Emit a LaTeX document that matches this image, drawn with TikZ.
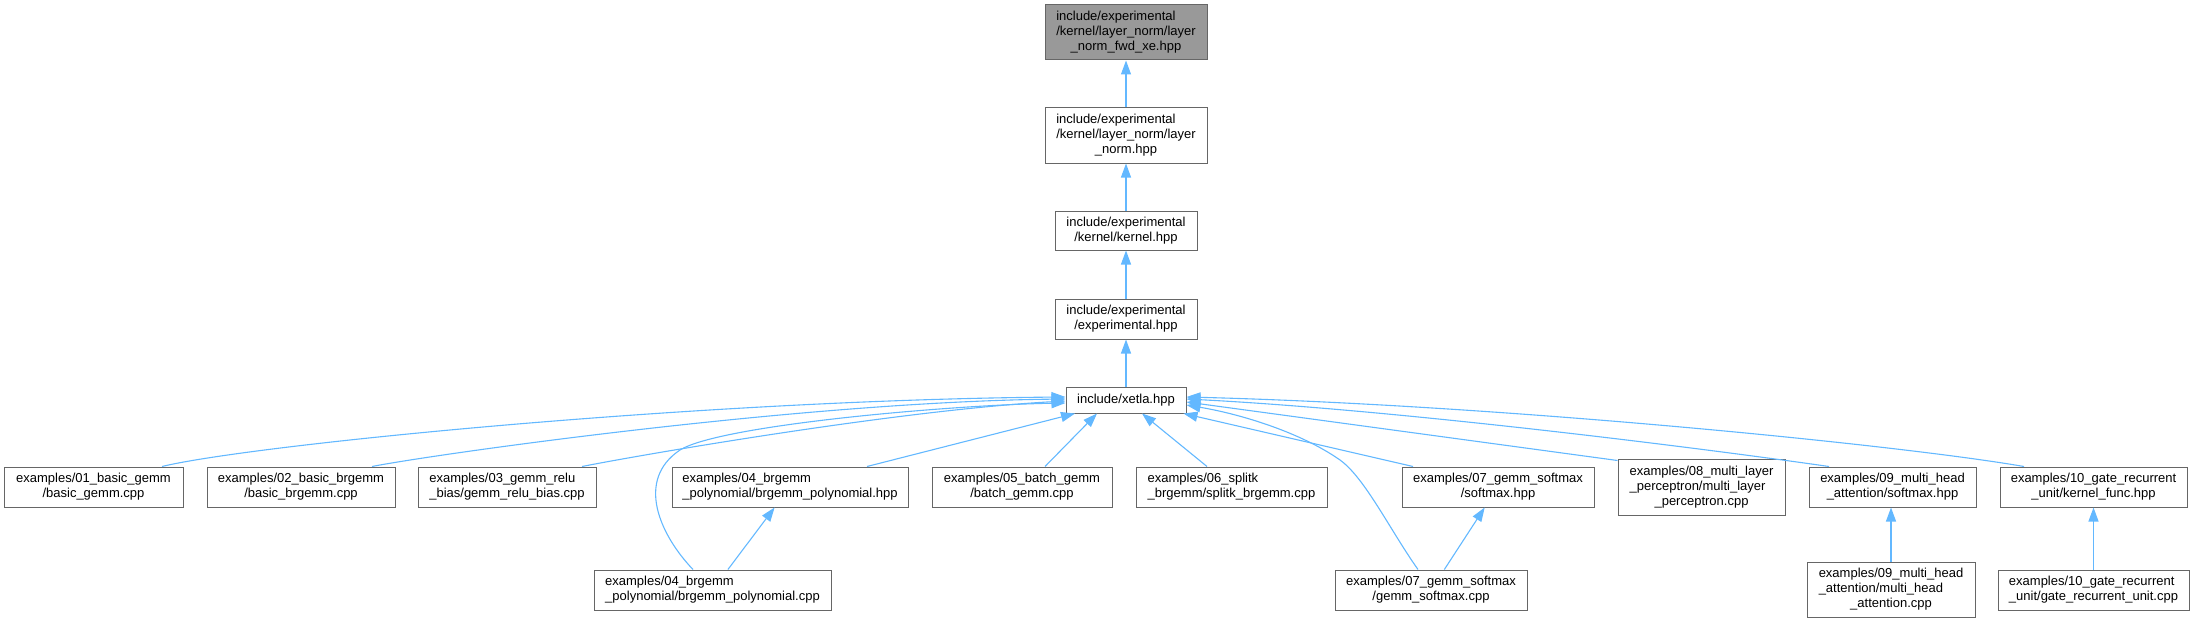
\documentclass[tikz,border=0pt]{standalone}
\usepackage{fontspec}
\setmainfont{Liberation Sans}
\usetikzlibrary{arrows.meta}
\definecolor{edgeblue}{HTML}{63B8FF}
\definecolor{boxgray}{HTML}{666666}
\definecolor{topfill}{HTML}{999999}
\newcommand{\dlab}[2]{\begin{tabular}{@{}l@{}}#1\\\multicolumn{1}{@{}c@{}}{#2}\end{tabular}}
\begin{document}
\begin{tikzpicture}[x=1pt,y=-1pt,
  box/.style={draw=boxgray,line width=1pt,fill=white,inner sep=0pt,font=\fontsize{13}{15}\selectfont},
  sz/.style 2 args={minimum width=#1pt,minimum height=#2pt},
  edge/.style={draw=edgeblue,line width=1.1pt,-{Triangle[length=14pt,width=10pt]}}]
\useasboundingbox (0,0) rectangle (2195,623);

% chain
\node[box,sz={162}{55},fill=topfill] (top) at (1126,32.5) {\dlab{include/experimental\\/kernel/layer\_norm/layer}{\_norm\_fwd\_xe.hpp}};
\node[box,sz={162}{55}] (ln) at (1126,135.5) {\dlab{include/experimental\\/kernel/layer\_norm/layer}{\_norm.hpp}};
\node[box,sz={142}{39}] (kern) at (1126,230.5) {\dlab{include/experimental}{/kernel/kernel.hpp}};
\node[box,sz={142}{40}] (expe) at (1126,319) {\dlab{include/experimental}{/experimental.hpp}};
\node[box,sz={120}{26}] (xetla) at (1126,400) {include/xetla.hpp};

% row 2
\node[box,sz={179}{40}] (e01) at (93.5,487) {\dlab{examples/01\_basic\_gemm}{/basic\_gemm.cpp}};
\node[box,sz={188}{40}] (e02) at (301,487) {\dlab{examples/02\_basic\_brgemm}{/basic\_brgemm.cpp}};
\node[box,sz={178}{40}] (e03) at (507,487) {\dlab{examples/03\_gemm\_relu}{\_bias/gemm\_relu\_bias.cpp}};
\node[box,sz={236}{40}] (p04h) at (790,487) {\dlab{examples/04\_brgemm}{\_polynomial/brgemm\_polynomial.hpp}};
\node[box,sz={180}{40}] (b05) at (1022,487) {\dlab{examples/05\_batch\_gemm}{/batch\_gemm.cpp}};
\node[box,sz={191}{40}] (s06) at (1231.5,487) {\dlab{examples/06\_splitk}{\_brgemm/splitk\_brgemm.cpp}};
\node[box,sz={192}{40}] (s07h) at (1498,487) {\dlab{examples/07\_gemm\_softmax}{/softmax.hpp}};
\node[box,sz={167}{56}] (m08) at (1701.5,487) {\dlab{examples/08\_multi\_layer\\\_perceptron/multi\_layer}{\_perceptron.cpp}};
\node[box,sz={167}{40}] (s09) at (1892.5,487) {\dlab{examples/09\_multi\_head}{\_attention/softmax.hpp}};
\node[box,sz={187}{40}] (g10) at (2093.5,487) {\dlab{examples/10\_gate\_recurrent}{\_unit/kernel\_func.hpp}};

% row 3
\node[box,sz={237}{40}] (p04c) at (712.5,590) {\dlab{examples/04\_brgemm}{\_polynomial/brgemm\_polynomial.cpp}};
\node[box,sz={192}{40}] (g07c) at (1431,590) {\dlab{examples/07\_gemm\_softmax}{/gemm\_softmax.cpp}};
\node[box,sz={168}{55}] (m09c) at (1891,589.5) {\dlab{examples/09\_multi\_head\\\_attention/multi\_head}{\_attention.cpp}};
\node[box,sz={191}{40}] (g10c) at (2093.5,590) {\dlab{examples/10\_gate\_recurrent}{\_unit/gate\_recurrent\_unit.cpp}};

% chain edges
\draw[edge] (ln) -- (top);
\draw[edge] (kern) -- (ln);
\draw[edge] (expe) -- (kern);
\draw[edge] (xetla) -- (expe);

% edges to xetla, left side
\draw[edge] ([xshift=68.5pt]e01.north) .. controls (250,445) and (700,400) .. ([yshift=3pt]xetla.west);
\draw[edge] ([xshift=71pt]e02.north) .. controls (430,455) and (800,402) .. ([yshift=1pt]xetla.west);
\draw[edge] ([xshift=75pt]e03.north) .. controls (640,455) and (900,410) .. ([yshift=-1pt]xetla.west);
\draw[edge] ([xshift=-19.5pt]p04c.north) .. controls (660,535) and (635,480) .. (680,450)
   .. controls (720,425) and (950,405) .. ([yshift=-3pt]xetla.west);
\draw[edge] ([xshift=77pt]p04h.north) -- ([xshift=-51pt]xetla.south);
\draw[edge] ([xshift=23pt]b05.north) -- ([xshift=-29pt]xetla.south);
\draw[edge] ([xshift=-24.5pt]s06.north) -- ([xshift=16pt]xetla.south);
% right side
\draw[edge] ([xshift=-85pt]s07h.north) -- ([xshift=-3pt]xetla.south east);
\draw[edge] ([xshift=-13pt]g07c.north) .. controls (1390,530) and (1365,478) .. (1340,460)
   .. controls (1300,432) and (1240,414) .. ([yshift=-5pt]xetla.east);
\draw[edge] ([yshift=-2pt]m08.north west) -- ([yshift=-2pt]xetla.east);
\draw[edge] ([xshift=-63.5pt]s09.north) .. controls (1700,448) and (1400,410) .. ([yshift=1pt]xetla.east);
\draw[edge] ([xshift=-69.5pt]g10.north) .. controls (1900,445) and (1500,405) .. ([yshift=3pt]xetla.east);

% lower edges
\draw[edge] (p04c) -- (p04h);
\draw[edge] (g07c) -- (s07h);
\draw[edge] (m09c.north) -- (m09c.north |- s09.south);
\draw[edge] (g10c.north) -- (g10c.north |- g10.south);
\end{tikzpicture}
\end{document}
